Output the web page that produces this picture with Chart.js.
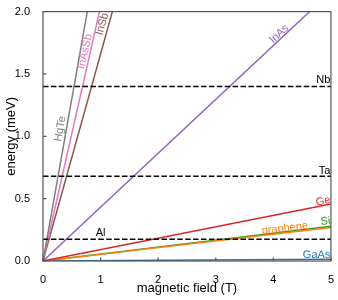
<!DOCTYPE html>
<html>
<head>
<meta charset="utf-8">
<script src="https://cdn.jsdelivr.net/npm/chart.js@4.4.0/dist/chart.umd.min.js"></script>
<style>
  html, body { margin: 0; padding: 0; background: #fff; }
  #wrap { width: 338px; height: 300px; }
</style>
</head>
<body>
<div id="wrap"><canvas id="grafico"></canvas></div>
<script>
// energia de Zeeman frente a campo magnetico (rectas desde el origen)
const materiales = ['HgTe', 'InAsSb', 'InSb', 'InAs', 'Ge', 'graphene', 'Si', 'GaAs'];
const campo = [0, 5];
const energiaA5T = [13.0, 10.2, 8.3, 2.16, 0.457, 0.268, 0.278, 0.015];
const colores = ['#7f7f7f', '#e377c2', '#8c564b', '#9467bd', '#d62728', '#ff7f0e', '#2ca02c', '#1f77b4'];

// gaps de superconductores
const superconductores = ['Nb', 'Ta', 'Al'];
const gaps = [1.40, 0.68, 0.175];

const ticksX = [0, 1, 2, 3, 4, 5];
const ticksY = [0, 0.5, 1.0, 1.5, 2.0];

// donde va cada etiqueta (coordenadas de datos)
const etiquetas = [
  { texto: 'HgTe', serie: 0, b: 0.30, e: 1.06, alinear: 'center' },
  { texto: 'InAsSb', serie: 1, b: 0.73, e: 1.68, alinear: 'center' },
  { texto: 'InSb', serie: 2, b: 1.03, e: 1.90, alinear: 'center' },
  { texto: 'InAs', serie: 3, b: 4.10, e: 1.82, alinear: 'center' },
  { texto: 'Ge', serie: 4, b: 4.99, e: 0.49, alinear: 'right' },
  { texto: 'graphene', serie: 5, b: 4.20, e: 0.262, alinear: 'center' },
  { texto: 'Si', serie: 6, b: 4.99, e: 0.322, alinear: 'right' },
  { texto: 'GaAs', serie: 7, b: 4.99, e: 0.05, alinear: 'right' },
  { texto: 'Nb', serie: null, b: 4.99, e: 1.45, alinear: 'right' },
  { texto: 'Ta', serie: null, b: 4.99, e: 0.72, alinear: 'right' },
  { texto: 'Al', serie: null, b: 1.0, e: 0.223, alinear: 'center' }
];

const fuente = "'Liberation Sans', Arial, sans-serif";
Chart.defaults.font.family = fuente;
Chart.defaults.color = '#000';

const datasets = [];
superconductores.forEach((nombre, i) => {
  datasets.push({
    label: nombre,
    data: campo.map(b => ({ x: b, y: gaps[i] })),
    borderColor: '#000',
    borderWidth: 1.5,
    borderDash: [5.5, 2.4],
    pointRadius: 0,
    showLine: true
  });
});
materiales.forEach((nombre, i) => {
  datasets.push({
    label: nombre,
    data: campo.map((b, j) => ({ x: b, y: j === 0 ? 0 : energiaA5T[i] })),
    borderColor: colores[i],
    borderWidth: 1.5,
    pointRadius: 0,
    showLine: true
  });
});

const marco = {
  id: 'marco',
  afterDraw(chart) {
    const { ctx, chartArea: a, scales } = chart;
    ctx.save();
    ctx.strokeStyle = '#555';
    ctx.lineWidth = 1.2;
    ctx.strokeRect(a.left, a.top, a.right - a.left, a.bottom - a.top);
    ctx.beginPath();
    ticksX.forEach(v => {
      const px = scales.x.getPixelForValue(v);
      ctx.moveTo(px, a.bottom);
      ctx.lineTo(px, a.bottom - 3.5);
    });
    ticksY.forEach(v => {
      const py = scales.y.getPixelForValue(v);
      ctx.moveTo(a.left, py);
      ctx.lineTo(a.left + 3.5, py);
    });
    ctx.stroke();

    // etiquetas sobre las rectas
    ctx.font = '11px ' + fuente;
    ctx.textBaseline = 'middle';
    etiquetas.forEach(et => {
      const px = scales.x.getPixelForValue(et.b);
      const py = scales.y.getPixelForValue(et.e);
      let ang = 0;
      let color = '#000';
      if (et.serie !== null) {
        const x1 = scales.x.getPixelForValue(campo[1]);
        const y1 = scales.y.getPixelForValue(energiaA5T[et.serie]);
        const x0 = scales.x.getPixelForValue(0);
        const y0 = scales.y.getPixelForValue(0);
        ang = Math.atan2(y1 - y0, x1 - x0);
        color = colores[et.serie];
      }
      ctx.save();
      ctx.translate(px, py);
      ctx.rotate(ang);
      ctx.fillStyle = color;
      ctx.textAlign = et.alinear;
      ctx.fillText(et.texto, 0, 0);
      ctx.restore();
    });
    ctx.restore();
  }
};

new Chart(document.getElementById('grafico'), {
  type: 'scatter',
  data: { datasets },
  options: {
    responsive: true,
    maintainAspectRatio: false,
    animation: false,
    layout: { padding: { left: 0, top: 7, right: 7, bottom: 0 } },
    plugins: {
      legend: { display: false },
      tooltip: { enabled: false }
    },
    scales: {
      x: {
        type: 'linear',
        min: 0,
        max: 5,
        afterBuildTicks: s => { s.ticks = ticksX.map(v => ({ value: v })); },
        afterFit: s => { s.height = 39; },
        grid: { display: false },
        border: { display: false },
        ticks: { font: { size: 11 }, padding: 4, maxRotation: 0, callback: v => String(v) },
        title: { display: true, text: 'magnetic field (T)', font: { size: 13 }, padding: { top: 1 } }
      },
      y: {
        type: 'linear',
        min: 0,
        max: 2,
        afterBuildTicks: s => { s.ticks = ticksY.map(v => ({ value: v })); },
        afterFit: s => { s.width = 43; },
        grid: { display: false },
        border: { display: false },
        ticks: { font: { size: 11 }, padding: 5, callback: v => v.toFixed(1) },
        title: { display: true, text: 'energy (meV)', font: { size: 13 }, padding: { bottom: 1 } }
      }
    }
  },
  plugins: [marco]
});
</script>
</body>
</html>
